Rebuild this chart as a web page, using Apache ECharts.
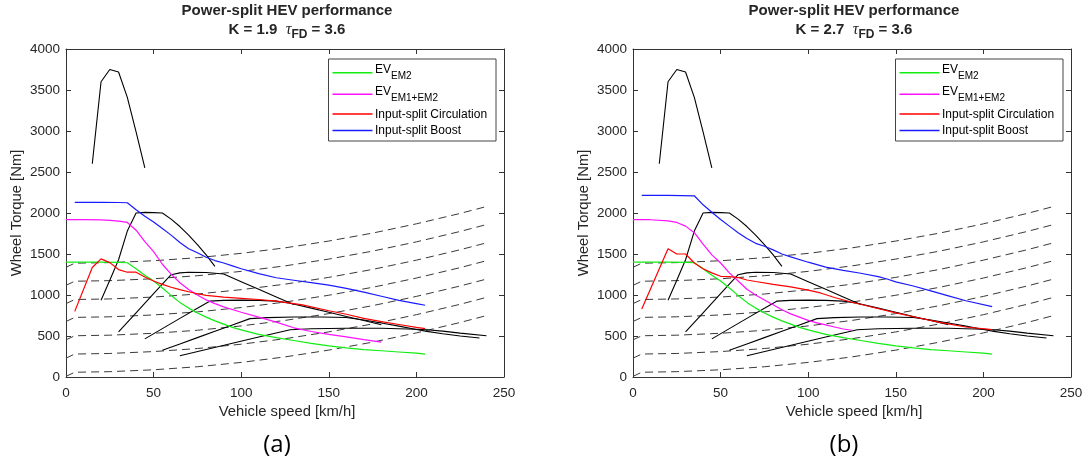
<!DOCTYPE html>
<html>
<head>
<meta charset="utf-8">
<script src="https://cdn.jsdelivr.net/npm/echarts@6.0.0/dist/echarts.min.js"></script>
<style>
  html, body { margin: 0; padding: 0; background: #fff; }
  #chart { width: 1088px; height: 464px; }
</style>
</head>
<body>
<div id="chart"></div>
<script>
// ---- axis ranges / tick labels ----
const speedTicks = [0, 50, 100, 150, 200, 250];
const torqueTicks = [0, 500, 1000, 1500, 2000, 2500, 3000, 3500, 4000];

// ---- road-load curves (dashed), wheel torque [Nm] at the given speeds [km/h] ----
const loadSpeeds = [0, 5, 25, 50, 75, 100, 125, 150, 175, 200, 225, 240];
const load1 = [8, 58, 65, 88, 125, 178, 245, 328, 425, 538, 665, 749];
const load2 = [230, 280, 287, 310, 347, 400, 467, 550, 647, 760, 887, 971];
const load3 = [453, 503, 510, 533, 570, 623, 690, 773, 870, 983, 1110, 1194];
const load4 = [677, 727, 734, 757, 794, 847, 914, 997, 1094, 1207, 1334, 1418];
const load5 = [895, 945, 952, 975, 1012, 1065, 1132, 1215, 1312, 1425, 1552, 1636];
const load6 = [1118, 1168, 1175, 1198, 1235, 1288, 1355, 1438, 1535, 1648, 1775, 1859];
const load7 = [1338, 1388, 1395, 1418, 1455, 1508, 1575, 1658, 1755, 1868, 1995, 2079];

// ---- conventional gear traction curves (black) [speed, torque] ----
const gear1 = [[15, 2600], [20, 3600], [25, 3750], [30, 3720], [35, 3410], [40, 2990], [45, 2550]];
const gear2 = [[20, 935], [25, 1180], [30, 1430], [35, 1780], [40, 2000], [45, 2008], [50, 2004], [55, 2000],
               [60, 1925], [65, 1835], [70, 1730], [75, 1615], [80, 1490], [85, 1350]];
const gear3 = [[30, 550], [40, 783], [50, 1016], [60, 1248], [65, 1270], [70, 1278], [80, 1275], [90, 1256],
               [100, 1163], [110, 1070], [120, 977], [130, 885]];
const gear4 = [[45, 465], [55, 590], [65, 715], [75, 838], [82, 925], [90, 935], [100, 938], [110, 935],
               [120, 925], [128, 900], [140, 840], [150, 790], [160, 737], [170, 688], [180, 637]];
const gear5 = [[55, 325], [65, 402], [75, 480], [85, 557], [95, 635], [105, 712], [115, 724], [130, 731],
               [145, 732], [160, 725], [170, 695], [180, 658], [190, 620], [200, 580], [206, 556],
               [215, 528], [225, 500], [236, 475]];
const gear6 = [[65, 260], [80, 336], [95, 411], [110, 487], [128, 577], [140, 588], [160, 595], [180, 594],
               [200, 583], [206, 577], [215, 560], [225, 535], [240, 503]];

// ---- EV with EM2 only (same in both panels) ----
const evEm2 = [[0, 1400], [10, 1400], [20, 1400], [30, 1398], [35, 1393], [40, 1320], [45, 1240], [50, 1170],
               [55, 1085], [60, 995], [65, 910], [70, 840], [75, 780], [80, 730], [85, 685], [90, 645],
               [95, 605], [100, 575], [110, 520], [120, 480], [130, 445], [140, 410], [150, 380], [160, 355],
               [170, 335], [180, 320], [190, 305], [200, 290], [205, 280]];

// ---- panel (a): K = 1.9 ----
const evBothA = [[0, 1920], [10, 1920], [20, 1915], [25, 1910], [30, 1900], [35, 1885], [40, 1790], [45, 1650],
                 [50, 1530], [55, 1375], [60, 1255], [65, 1150], [70, 1068], [75, 1000], [80, 940], [85, 895],
                 [90, 855], [100, 790], [110, 730], [120, 670], [130, 600], [140, 555], [150, 520], [160, 490],
                 [170, 455], [180, 425]];
const circA = [[5, 800], [15, 1335], [20, 1440], [25, 1395], [30, 1310], [35, 1278], [40, 1278], [45, 1220],
               [50, 1170], [55, 1130], [60, 1095], [65, 1065], [70, 1040], [75, 1015], [80, 995], [90, 975],
               [100, 960], [110, 945], [120, 925], [127, 905], [135, 880], [150, 808], [160, 765], [170, 715],
               [180, 675], [190, 640], [200, 605], [205, 590]];
const boostA = [[5, 2130], [20, 2130], [30, 2128], [35, 2125], [40, 2040], [45, 1960], [50, 1890], [55, 1810],
                [60, 1730], [65, 1640], [70, 1565], [75, 1515], [80, 1460], [85, 1420], [90, 1390], [95, 1355],
                [100, 1320], [110, 1260], [120, 1210], [130, 1180], [140, 1150], [150, 1120], [160, 1080],
                [170, 1035], [180, 985], [190, 935], [200, 895], [205, 875]];

// ---- panel (b): K = 2.7 ----
const evBothB = [[0, 1920], [10, 1918], [20, 1905], [25, 1885], [30, 1840], [35, 1760], [40, 1620], [45, 1490],
                 [50, 1390], [55, 1270], [60, 1170], [65, 1070], [70, 1000], [75, 940], [80, 880], [85, 820],
                 [90, 770], [95, 730], [100, 690], [105, 660], [110, 635], [115, 610], [120, 585], [125, 570]];
const circB = [[5, 830], [20, 1565], [25, 1500], [30, 1500], [35, 1390], [40, 1320], [45, 1270], [50, 1228],
               [55, 1225], [60, 1213], [65, 1183], [70, 1165], [80, 1130], [90, 1100], [100, 1060], [107, 1025],
               [115, 970], [125, 912], [135, 860], [150, 782], [160, 735], [175, 666], [190, 610], [205, 578]];
const boostB = [[5, 2215], [20, 2215], [35, 2210], [40, 2100], [45, 2010], [50, 1920], [55, 1840], [60, 1760],
                [65, 1690], [70, 1630], [75, 1595], [80, 1550], [85, 1500], [90, 1465], [100, 1400], [110, 1340],
                [120, 1300], [130, 1265], [140, 1225], [145, 1195], [150, 1160], [160, 1110], [170, 1050],
                [180, 990], [190, 930], [205, 858]];

const loadCurves = [load1, load2, load3, load4, load5, load6, load7];
const gearCurves = [gear1, gear2, gear3, gear4, gear5, gear6];

const panels = [
  { left: 66, tag: '(a)', k: '1.9', evBoth: evBothA, circ: circA, boost: boostA },
  { left: 633, tag: '(b)', k: '2.7', evBoth: evBothB, circ: circB, boost: boostB }
];

const FAMILY = "'Liberation Sans', Arial, Helvetica, sans-serif";
const AXIS_COLOR = '#333';
const TEXT_COLOR = '#262626';
const COLORS = { ev2: '#10ee10', evBoth: '#ff10ff', circ: '#ff0000', boost: '#1a1aff' };
const PLOT_W = 438, PLOT_H = 328, PLOT_TOP = 49;

// text measurement for laying out runs with sub-scripts
const measureCtx = document.createElement('canvas').getContext('2d');
function fontStr(p) {
  return (p.style || 'normal') + ' ' + (p.weight || 'normal') + ' ' + p.size + 'px ' + (p.family || FAMILY);
}
function textRun(pieces, x, cy, align) {
  const widths = pieces.map(p => { measureCtx.font = fontStr(p); return measureCtx.measureText(p.text).width; });
  const total = widths.reduce((a, b) => a + b, 0);
  let pos = align === 'left' ? x : x - total / 2;
  const out = [];
  pieces.forEach((p, i) => {
    out.push({
      type: 'text', x: pos, y: cy + (p.dy || 0), silent: true, z: 100,
      style: { text: p.text, font: fontStr(p), fill: p.color || TEXT_COLOR,
               textAlign: 'left', textVerticalAlign: 'middle', verticalAlign: 'middle' }
    });
    pos += widths[i];
  });
  return out;
}

const plainNumber = v => String(v);
const grids = [], xAxes = [], yAxes = [], series = [], graphics = [];

panels.forEach((pnl, i) => {
  grids.push({ left: pnl.left, top: PLOT_TOP, width: PLOT_W, height: PLOT_H, show: false });
  const lineStyle = { color: AXIS_COLOR, width: 1 };
  const labelStyle = { color: TEXT_COLOR, fontSize: 13.5, fontFamily: FAMILY, formatter: plainNumber };
  xAxes.push({
    gridIndex: i, type: 'value', position: 'bottom',
    min: speedTicks[0], max: speedTicks[speedTicks.length - 1], interval: speedTicks[1] - speedTicks[0],
    axisLine: { show: true, onZero: false, lineStyle },
    axisTick: { show: true, inside: true, length: 5, lineStyle },
    axisLabel: Object.assign({ margin: 9 }, labelStyle),
    splitLine: { show: false }
  });
  xAxes.push({
    gridIndex: i, type: 'value', position: 'top',
    min: speedTicks[0], max: speedTicks[speedTicks.length - 1], interval: speedTicks[1] - speedTicks[0],
    axisLine: { show: true, onZero: false, lineStyle },
    axisTick: { show: true, inside: true, length: 5, lineStyle },
    axisLabel: { show: false }, splitLine: { show: false }
  });
  yAxes.push({
    gridIndex: i, type: 'value', position: 'left',
    min: torqueTicks[0], max: torqueTicks[torqueTicks.length - 1], interval: torqueTicks[1] - torqueTicks[0],
    axisLine: { show: true, onZero: false, lineStyle },
    axisTick: { show: true, inside: true, length: 5, lineStyle },
    axisLabel: Object.assign({ margin: 6 }, labelStyle),
    splitLine: { show: false }
  });
  yAxes.push({
    gridIndex: i, type: 'value', position: 'right',
    min: torqueTicks[0], max: torqueTicks[torqueTicks.length - 1], interval: torqueTicks[1] - torqueTicks[0],
    axisLine: { show: true, onZero: false, lineStyle },
    axisTick: { show: true, inside: true, length: 5, lineStyle },
    axisLabel: { show: false }, splitLine: { show: false }
  });

  const xi = i * 2, yi = i * 2;
  const base = { type: 'line', xAxisIndex: xi, yAxisIndex: yi, showSymbol: false, symbol: 'none',
                 silent: true, animation: false };

  // road-load curves
  loadCurves.forEach(vals => {
    series.push(Object.assign({}, base, {
      data: loadSpeeds.map((v, j) => [v, vals[j]]),
      lineStyle: { color: '#3a3a3a', width: 1, type: [8, 5] }
    }));
  });
  // gear curves
  gearCurves.forEach(d => {
    series.push(Object.assign({}, base, { data: d, lineStyle: { color: '#000', width: 1.1 } }));
  });
  // hybrid modes
  series.push(Object.assign({}, base, { name: 'EV EM2', data: evEm2, lineStyle: { color: COLORS.ev2, width: 1.2 } }));
  series.push(Object.assign({}, base, { name: 'EV EM1+EM2', data: pnl.evBoth, lineStyle: { color: COLORS.evBoth, width: 1.2 } }));
  series.push(Object.assign({}, base, { name: 'Input-split Circulation', data: pnl.circ, lineStyle: { color: COLORS.circ, width: 1.2 } }));
  series.push(Object.assign({}, base, { name: 'Input-split Boost', data: pnl.boost, lineStyle: { color: COLORS.boost, width: 1.2 } }));

  const cx = pnl.left + PLOT_W / 2;
  // titles
  graphics.push(...textRun([{ text: 'Power-split HEV performance', size: 15, weight: 'bold' }], cx + 2, 11));
  graphics.push(...textRun([
    { text: 'K = ' + pnl.k + '  ', size: 15, weight: 'bold' },
    { text: 'τ', size: 16, style: 'italic', family: "'Liberation Serif', 'DejaVu Serif', serif" },
    { text: 'FD', size: 12, weight: 'bold', dy: 5 },
    { text: ' = 3.6', size: 15, weight: 'bold' }
  ], cx + 2, 30));
  // axis names
  graphics.push(...textRun([{ text: 'Vehicle speed [km/h]', size: 14.8 }], cx + 2, 412));
  graphics.push({
    type: 'text', x: pnl.left - 49.5, y: PLOT_TOP + PLOT_H / 2, rotation: Math.PI / 2, silent: true, z: 100,
    style: { text: 'Wheel Torque [Nm]', font: fontStr({ size: 14.8 }), fill: TEXT_COLOR,
             textAlign: 'center', textVerticalAlign: 'middle', verticalAlign: 'middle' }
  });
  // panel tag
  graphics.push(...textRun([{ text: pnl.tag, size: 24, family: "'Open Sans', 'Noto Sans', sans-serif", color: '#000' }],
    pnl.left + 211, 445));

  // legend box
  const bx = pnl.left + 262.5, by = 59;
  graphics.push({ type: 'rect', shape: { x: bx, y: by, width: 167.5, height: 82 }, silent: true, z: 90,
                  style: { fill: '#fff', stroke: '#444', lineWidth: 1 } });
  const rows = [
    { color: COLORS.ev2, ly: 13.7, pieces: [{ text: 'EV', size: 12, color: '#000' }, { text: 'EM2', size: 10, dy: 6.5, color: '#000' }] },
    { color: COLORS.evBoth, ly: 35.3, pieces: [{ text: 'EV', size: 12, color: '#000' }, { text: 'EM1+EM2', size: 10, dy: 6.5, color: '#000' }] },
    { color: COLORS.circ, ly: 55, pieces: [{ text: 'Input-split Circulation', size: 12, color: '#000' }] },
    { color: COLORS.boost, ly: 71.5, pieces: [{ text: 'Input-split Boost', size: 12, color: '#000' }] }
  ];
  rows.forEach((r, ri) => {
    graphics.push({ type: 'line', shape: { x1: bx + 4, y1: by + r.ly, x2: bx + 44, y2: by + r.ly }, silent: true, z: 95,
                    style: { stroke: r.color, lineWidth: 1.5 } });
    const ty = ri < 2 ? by + r.ly - 2.8 : by + r.ly + 0.5;
    graphics.push(...textRun(r.pieces, bx + 46.5, ty, 'left'));
  });
});

const chart = echarts.init(document.getElementById('chart'), null, { renderer: 'canvas' });
chart.setOption({
  animation: false,
  backgroundColor: '#fff',
  grid: grids,
  xAxis: xAxes,
  yAxis: yAxes,
  series: series,
  graphic: { elements: graphics }
});
</script>
</body>
</html>
